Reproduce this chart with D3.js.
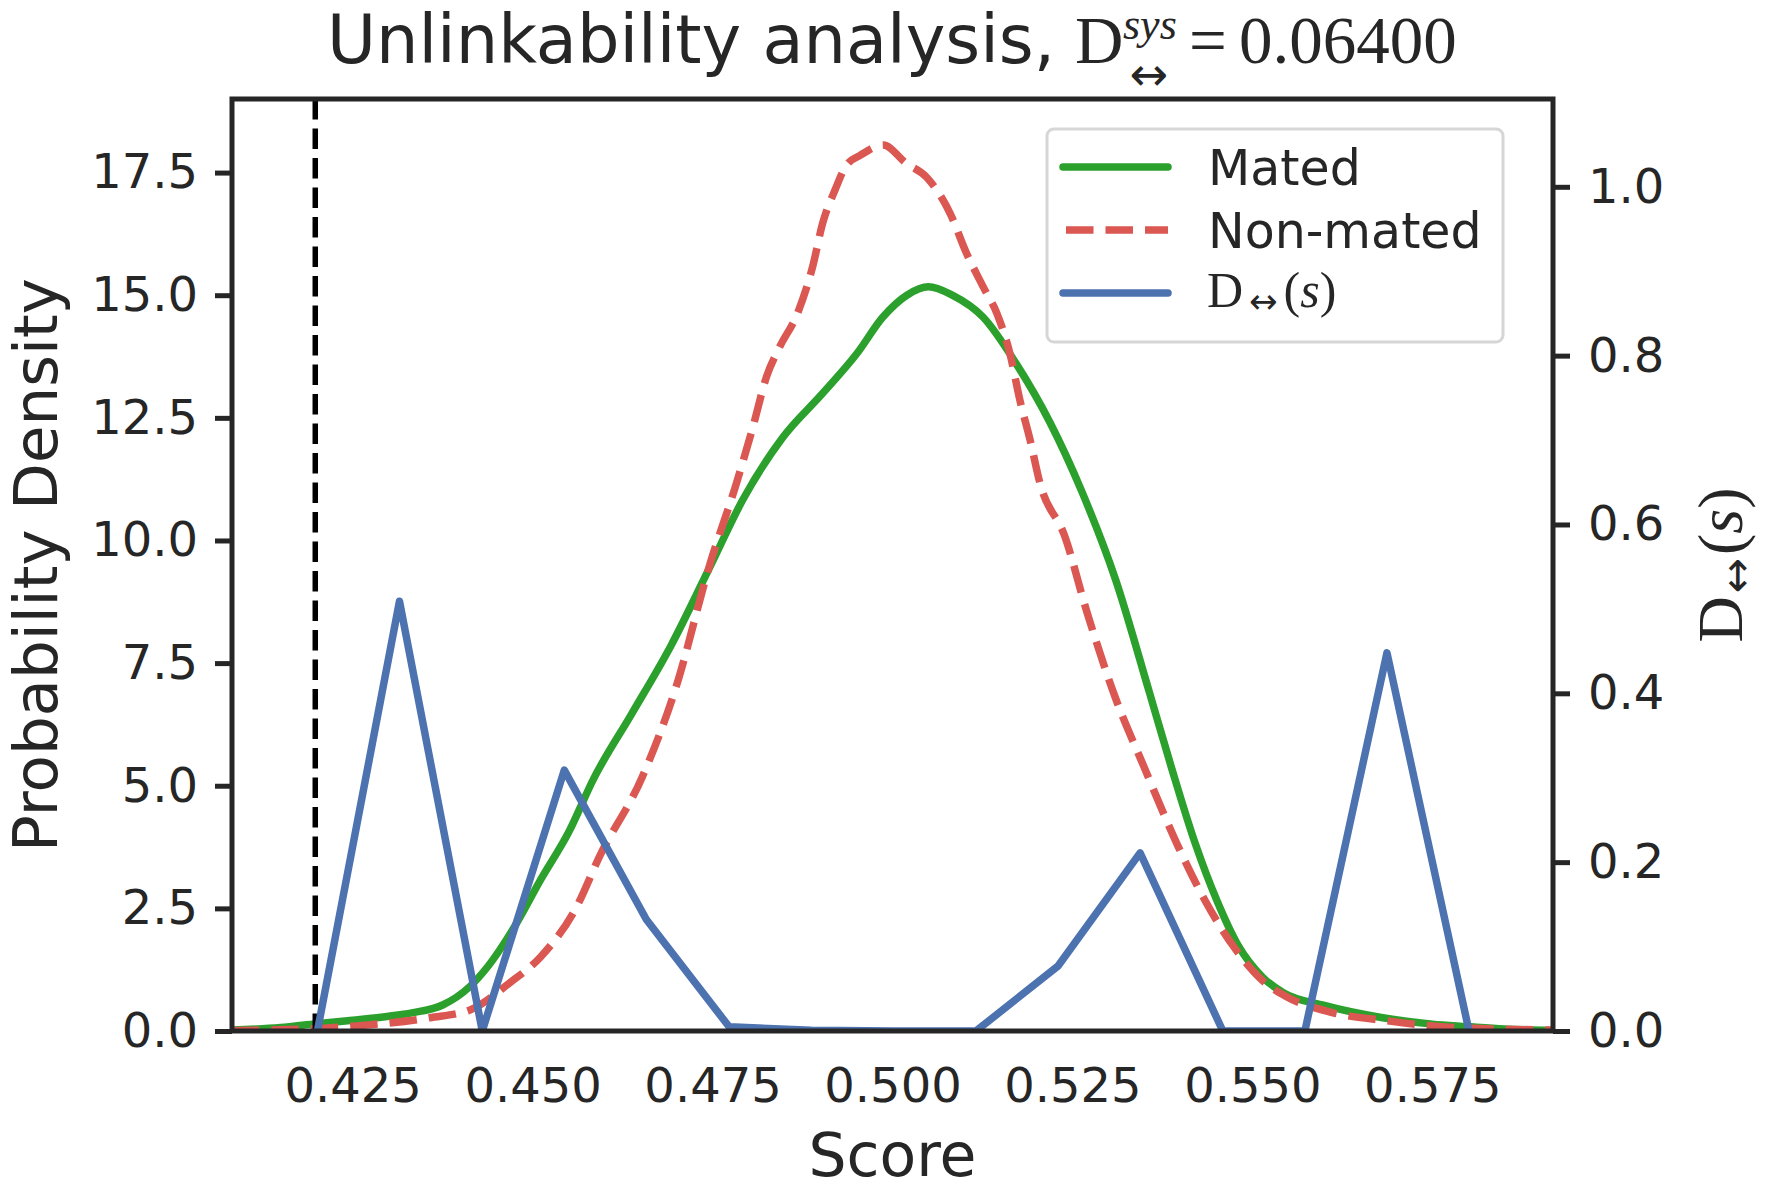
<!DOCTYPE html>
<html>
<head>
<meta charset="utf-8">
<script src="https://cdn.jsdelivr.net/npm/d3@7"></script>
<style>
body { margin: 0; background: #fff; }
</style>
</head>
<body>
<div id="chart"></div>
<script>

// values
var matedScore = [0.4082, 0.4150, 0.4200, 0.4250, 0.4300, 0.4332, 0.4375, 0.4413, 0.4438, 0.4475,
                  0.4511, 0.4550, 0.4585, 0.4637, 0.4692, 0.4746, 0.4792, 0.4848, 0.4903, 0.4950,
                  0.4987, 0.5020, 0.5050, 0.5083, 0.5126, 0.5172, 0.5219, 0.5263, 0.5310, 0.5357,
                  0.5388, 0.5420, 0.5451, 0.5480, 0.5514, 0.5543, 0.5600, 0.5681, 0.5750, 0.5798,
                  0.5850, 0.5918];
var matedDensity = [0.02, 0.07, 0.15, 0.22, 0.30, 0.37, 0.53, 0.91, 1.32, 2.13,
                    3.08, 4.05, 5.15, 6.45, 7.85, 9.45, 10.83, 12.11, 13.0, 13.8,
                    14.56, 15.0, 15.17, 15.0, 14.55, 13.6, 12.4, 11.0, 9.2, 6.9,
                    5.35, 3.85, 2.65, 1.75, 1.1, 0.78, 0.52, 0.27, 0.14, 0.09,
                    0.04, 0.01];

var nonMatedScore = [0.4082, 0.4200, 0.4277, 0.4357, 0.4413, 0.4468, 0.4511, 0.4561, 0.4593, 0.4652,
                     0.4699, 0.4746, 0.4783, 0.4806, 0.4825, 0.4843, 0.4868, 0.4889, 0.4903, 0.4920,
                     0.4936, 0.4955, 0.4987, 0.5019, 0.5047, 0.5080, 0.5103, 0.5126, 0.5145, 0.5163,
                     0.5177, 0.5191, 0.5205, 0.5239, 0.5271, 0.5310, 0.5349, 0.5396, 0.5435, 0.5474,
                     0.5514, 0.5545, 0.5607, 0.5686, 0.5780, 0.5918];
var nonMatedDensity = [0.01, 0.05, 0.13, 0.27, 0.43, 0.98, 1.51, 2.53, 3.56, 5.17,
                       7.0, 9.5, 11.16, 12.31, 13.34, 13.94, 14.63, 15.58, 16.47, 17.14,
                       17.65, 17.85, 18.06, 17.69, 17.41, 16.67, 15.85, 15.17, 14.63, 13.82,
                       12.86, 12.06, 11.16, 10.1, 8.5, 6.78, 5.4, 3.79, 2.64, 1.72,
                       1.03, 0.72, 0.39, 0.21, 0.07, 0.02];

var dScore = [0.4201, 0.4315, 0.4430, 0.4544, 0.4658, 0.4773, 0.4887, 0.5001, 0.5116, 0.5230,
              0.5344, 0.5459, 0.5573, 0.5687, 0.5801];
var dValue = [0, 0.509, 0, 0.309, 0.132, 0.005, 0.001, 0, 0, 0.077,
              0.211, 0, 0, 0.448, 0];

var threshold = 0.4198;

var xTicks = [0.425, 0.450, 0.475, 0.500, 0.525, 0.550, 0.575];
var yLeftTicks = [0, 2.5, 5, 7.5, 10, 12.5, 15, 17.5];
var yRightTicks = [0, 0.2, 0.4, 0.6, 0.8, 1.0];

var ink = "#262626";
var sans = "DejaVu Sans";
var serif = "Liberation Serif";
var lw = 7.5;
var redDash = "27.5,12";

// set the dimensions and margins of the graph
var margin = {top: 99, right: 214, bottom: 170, left: 232},
    width = 1767 - margin.left - margin.right,
    height = 1201 - margin.top - margin.bottom;

var root = d3.select("#chart")
    .append("svg")
    .attr("width", 1767)
    .attr("height", 1201);

var svg = root.append("g")
    .attr("transform", "translate(" + margin.left + "," + margin.top + ")");

var x = d3.scaleLinear().domain([0.40823, 0.59177]).range([0, width]);
var y = d3.scaleLinear().domain([0, 19.0]).range([height, 0]);
var y2 = d3.scaleLinear().domain([0, 1.104]).range([height, 0]);

svg.append("clipPath").attr("id", "plotclip")
    .append("rect").attr("width", width).attr("height", height);

// X axis (labels only, no tick marks)
var gx = svg.append("g")
    .attr("transform", "translate(0," + height + ")")
    .call(d3.axisBottom(x).tickValues(xTicks).tickFormat(d3.format(".3f"))
        .tickSizeInner(0).tickSizeOuter(0).tickPadding(37));

// Left Y axis
var gy = svg.append("g")
    .call(d3.axisLeft(y).tickValues(yLeftTicks).tickFormat(d3.format(".1f"))
        .tickSizeInner(17).tickSizeOuter(0).tickPadding(17));

// Right Y axis
var gy2 = svg.append("g")
    .attr("transform", "translate(" + width + ",0)")
    .call(d3.axisRight(y2).tickValues(yRightTicks).tickFormat(d3.format(".1f"))
        .tickSizeInner(17).tickSizeOuter(0).tickPadding(18));

[gx, gy, gy2].forEach(function(g) {
    g.select(".domain").remove();
    g.selectAll("line").attr("stroke", ink).attr("stroke-width", 5);
    g.selectAll("text").attr("font-family", sans).attr("font-size", 48).attr("fill", ink);
});

var curves = svg.append("g").attr("clip-path", "url(#plotclip)");

var mated = matedScore.map(function(s, i) { return [s, matedDensity[i]]; });
var nonMated = nonMatedScore.map(function(s, i) { return [s, nonMatedDensity[i]]; });
var dline = dScore.map(function(s, i) { return [s, dValue[i]]; });

var densityLine = d3.line()
    .x(function(d) { return x(d[0]); })
    .y(function(d) { return y(d[1]); })
    .curve(d3.curveMonotoneX);

curves.append("path")
    .datum(mated)
    .attr("d", densityLine)
    .attr("fill", "none")
    .attr("stroke", "#2ca02c")
    .attr("stroke-width", lw)
    .attr("stroke-linejoin", "round")
    .attr("stroke-linecap", "round");

curves.append("path")
    .datum(nonMated)
    .attr("d", densityLine)
    .attr("fill", "none")
    .attr("stroke", "#db5752")
    .attr("stroke-width", lw)
    .attr("stroke-dasharray", redDash);

// threshold marker
curves.append("line")
    .attr("x1", x(threshold)).attr("x2", x(threshold))
    .attr("y1", 0).attr("y2", height)
    .attr("stroke", "#000")
    .attr("stroke-width", 5.5)
    .attr("stroke-dasharray", "20.5,9");

curves.append("path")
    .datum(dline)
    .attr("d", d3.line()
        .x(function(d) { return x(d[0]); })
        .y(function(d) { return y2(d[1]); }))
    .attr("fill", "none")
    .attr("stroke", "#4c72b0")
    .attr("stroke-width", lw)
    .attr("stroke-linejoin", "round")
    .attr("stroke-linecap", "round");

// spines
svg.append("rect")
    .attr("width", width).attr("height", height)
    .attr("fill", "none")
    .attr("stroke", ink)
    .attr("stroke-width", 5);

// axis labels
svg.append("text")
    .attr("x", width / 2).attr("y", 1176 - margin.top)
    .attr("text-anchor", "middle")
    .attr("font-family", sans).attr("font-size", 60).attr("fill", ink)
    .text("Score");

svg.append("text")
    .attr("transform", "translate(" + (57 - margin.left) + "," + height / 2 + ") rotate(-90)")
    .attr("text-anchor", "middle")
    .attr("font-family", sans).attr("font-size", 61).attr("fill", ink)
    .text("Probability Density");

var rl = svg.append("text")
    .attr("transform", "translate(" + (1742 - margin.left) + "," + height / 2 + ") rotate(-90)")
    .attr("text-anchor", "middle")
    .attr("font-family", serif).attr("font-size", 64).attr("fill", ink);
rl.append("tspan").text("D");
rl.append("tspan").attr("font-size", 42).attr("font-family", sans).attr("dx", 3).attr("dy", 9).text("\u2194");
rl.append("tspan").attr("dx", 3).attr("dy", -9).text("(");
rl.append("tspan").attr("font-style", "italic").text("s");
rl.append("tspan").text(")");

// title
var title = root.append("text")
    .attr("x", 327).attr("y", 63)
    .attr("font-family", sans).attr("font-size", 67).attr("fill", ink);
title.append("tspan").text("Unlinkability analysis,");
title.append("tspan").attr("x", 1075).attr("font-family", serif).text("D");
title.append("tspan").attr("x", 1123).attr("dy", -24).attr("font-family", serif)
    .attr("font-size", 44).attr("font-style", "italic").text("sys");
title.append("tspan").attr("x", 1189).attr("dy", 24).attr("font-family", serif).text("=");
title.append("tspan").attr("x", 1239).attr("font-family", serif).text("0.06400");
root.append("text")
    .attr("x", 1149).attr("y", 90)
    .attr("text-anchor", "middle")
    .attr("font-family", sans).attr("font-size", 46).attr("fill", ink)
    .text("\u2194");

// legend
var legend = root.append("g");
legend.append("rect")
    .attr("x", 1047).attr("y", 129).attr("width", 456).attr("height", 213)
    .attr("rx", 7)
    .attr("fill", "#fff").attr("stroke", "#d6d6d6").attr("stroke-width", 3);

var legendItems = [
    {label: "Mated", color: "#2ca02c", dash: null, y: 167},
    {label: "Non-mated", color: "#db5752", dash: redDash, y: 230},
    {label: null, color: "#4c72b0", dash: null, y: 293}
];
legendItems.forEach(function(it) {
    legend.append("line")
        .attr("x1", it.dash ? 1066 : 1063).attr("x2", 1168)
        .attr("y1", it.y).attr("y2", it.y)
        .attr("stroke", it.color).attr("stroke-width", lw)
        .attr("stroke-linecap", it.dash ? "butt" : "round")
        .attr("stroke-dasharray", it.dash);
    if (it.label) {
        legend.append("text")
            .attr("x", 1208).attr("y", it.y + 18)
            .attr("font-family", sans).attr("font-size", 49).attr("fill", ink)
            .text(it.label);
    }
});
var lt = legend.append("text")
    .attr("x", 1207).attr("y", 307)
    .attr("font-family", serif).attr("font-size", 50).attr("fill", ink);
lt.append("tspan").text("D");
lt.append("tspan").attr("dx", 6).attr("dy", 6).attr("font-family", sans).attr("font-size", 34).text("\u2194");
lt.append("tspan").attr("dx", 6).attr("dy", -6).text("(");
lt.append("tspan").attr("font-style", "italic").text("s");
lt.append("tspan").text(")");

</script>
</body>
</html>
